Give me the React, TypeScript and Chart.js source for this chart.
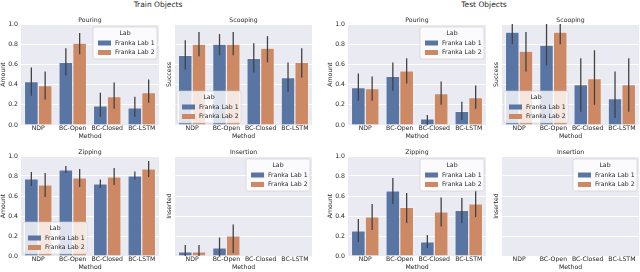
import React, { useEffect, useRef } from "react";
import { Chart, registerables } from "chart.js";
Chart.register(...registerables);

// ---------- data ----------
const methods = ["NDP", "BC-Open", "BC-Closed", "BC-LSTM"];
const labs = ["Franka Lab 1", "Franka Lab 2"];
const legendTitle = "Lab";
const yTicks = [0, 0.2, 0.4, 0.6, 0.8, 1.0];

// Train – Pouring
const trPourL1 = [0.43, 0.62, 0.19, 0.17];
const trPourL1Lo = [0.29, 0.49, 0.08, 0.08];
const trPourL1Hi = [0.57, 0.76, 0.32, 0.28];
const trPourL2 = [0.39, 0.81, 0.28, 0.32];
const trPourL2Lo = [0.25, 0.7, 0.16, 0.22];
const trPourL2Hi = [0.53, 0.91, 0.42, 0.45];

// Train – Scooping
const trScoopL1 = [0.69, 0.8, 0.66, 0.47];
const trScoopL1Lo = [0.55, 0.69, 0.52, 0.33];
const trScoopL1Hi = [0.84, 0.9, 0.81, 0.62];
const trScoopL2 = [0.8, 0.8, 0.76, 0.62];
const trScoopL2Lo = [0.68, 0.69, 0.62, 0.47];
const trScoopL2Hi = [0.92, 0.92, 0.88, 0.76];

// Test – Pouring
const tePourL1 = [0.37, 0.48, 0.06, 0.135];
const tePourL1Lo = [0.24, 0.34, 0.0, 0.05];
const tePourL1Hi = [0.51, 0.62, 0.1, 0.23];
const tePourL2 = [0.36, 0.535, 0.31, 0.27];
const tePourL2Lo = [0.24, 0.41, 0.2, 0.16];
const tePourL2Hi = [0.48, 0.66, 0.43, 0.39];

// Test – Scooping
const teScoopL1 = [0.92, 0.79, 0.4, 0.26];
const teScoopL1Lo = [0.8, 0.59, 0.13, 0.07];
const teScoopL1Hi = [1.0, 1.0, 0.66, 0.53];
const teScoopL2 = [0.73, 0.92, 0.46, 0.4];
const teScoopL2Lo = [0.53, 0.8, 0.2, 0.13];
const teScoopL2Hi = [0.92, 1.0, 0.74, 0.66];

// Train – Zipping
const trZipL1 = [0.77, 0.86, 0.72, 0.8];
const trZipL1Lo = [0.7, 0.83, 0.68, 0.765];
const trZipL1Hi = [0.84, 0.9, 0.765, 0.845];
const trZipL2 = [0.71, 0.78, 0.79, 0.87];
const trZipL2Lo = [0.59, 0.69, 0.71, 0.79];
const trZipL2Hi = [0.83, 0.87, 0.88, 0.95];

// Train – Insertion
const trInsL1 = [0.04, 0.08, 0, 0];
const trInsL1Lo = [0, 0, 0, 0];
const trInsL1Hi = [0.11, 0.185, 0, 0];
const trInsL2 = [0.04, 0.2, 0, 0];
const trInsL2Lo = [0, 0.03, 0, 0];
const trInsL2Hi = [0.11, 0.315, 0, 0];

// Test – Zipping
const teZipL1 = [0.25, 0.65, 0.14, 0.455];
const teZipL1Lo = [0.14, 0.52, 0.08, 0.33];
const teZipL1Hi = [0.37, 0.78, 0.21, 0.58];
const teZipL2 = [0.39, 0.485, 0.44, 0.52];
const teZipL2Lo = [0.26, 0.33, 0.295, 0.39];
const teZipL2Hi = [0.52, 0.63, 0.585, 0.665];

// Test – Insertion
const teInsL1 = [0, 0, 0, 0];
const teInsL1Lo = [0, 0, 0, 0];
const teInsL1Hi = [0, 0, 0, 0];
const teInsL2 = [0, 0, 0, 0];
const teInsL2Lo = [0, 0, 0, 0];
const teInsL2Hi = [0, 0, 0, 0];

// ---------- style ----------
const FONT = '"DejaVu Sans", sans-serif';
const FS = 6.2;
const TXT = "#262626";
const BG = "#EAEAF2";
const BLUE = "#5975A4";
const ORANGE = "#CC8963";
const ERR = "#424242";

type PanelCfg = {
  title: string;
  yLabel: string;
  showYTicks: boolean;
  legend: "ur" | "ll";
  v: number[][];
  lo: number[][];
  hi: number[][];
  left: number;
  top: number;
  width: number;
  height: number;
  yW: number;
};

const ROW1 = { top: 12, height: 128 };
const ROW2 = { top: 144, height: 127 };
const COLS = [
  { left: 0, width: 159, yW: 21, ticks: true },
  { left: 166, width: 146, yW: 9, ticks: false },
  { left: 327, width: 159, yW: 21, ticks: true },
  { left: 493, width: 146, yW: 9, ticks: false },
];

function mk(
  row: { top: number; height: number },
  col: { left: number; width: number; yW: number; ticks: boolean },
  title: string,
  yLabel: string,
  legend: "ur" | "ll",
  v: number[][],
  lo: number[][],
  hi: number[][]
): PanelCfg {
  return {
    title,
    yLabel,
    legend,
    v,
    lo,
    hi,
    showYTicks: col.ticks,
    left: col.left,
    width: col.width,
    yW: col.yW,
    top: row.top,
    height: row.height,
  };
}

const panels: PanelCfg[] = [
  mk(ROW1, COLS[0], "Pouring", "Amount", "ur", [trPourL1, trPourL2], [trPourL1Lo, trPourL2Lo], [trPourL1Hi, trPourL2Hi]),
  mk(ROW1, COLS[1], "Scooping", "Success", "ll", [trScoopL1, trScoopL2], [trScoopL1Lo, trScoopL2Lo], [trScoopL1Hi, trScoopL2Hi]),
  mk(ROW1, COLS[2], "Pouring", "Amount", "ur", [tePourL1, tePourL2], [tePourL1Lo, tePourL2Lo], [tePourL1Hi, tePourL2Hi]),
  mk(ROW1, COLS[3], "Scooping", "Success", "ll", [teScoopL1, teScoopL2], [teScoopL1Lo, teScoopL2Lo], [teScoopL1Hi, teScoopL2Hi]),
  mk(ROW2, COLS[0], "Zipping", "Amount", "ll", [trZipL1, trZipL2], [trZipL1Lo, trZipL2Lo], [trZipL1Hi, trZipL2Hi]),
  mk(ROW2, COLS[1], "Insertion", "Inserted", "ur", [trInsL1, trInsL2], [trInsL1Lo, trInsL2Lo], [trInsL1Hi, trInsL2Hi]),
  mk(ROW2, COLS[2], "Zipping", "Amount", "ur", [teZipL1, teZipL2], [teZipL1Lo, teZipL2Lo], [teZipL1Hi, teZipL2Hi]),
  mk(ROW2, COLS[3], "Insertion", "Inserted", "ur", [teInsL1, teInsL2], [teInsL1Lo, teInsL2Lo], [teInsL1Hi, teInsL2Hi]),
];

function roundRect(ctx: CanvasRenderingContext2D, x: number, y: number, w: number, h: number, r: number) {
  ctx.beginPath();
  ctx.moveTo(x + r, y);
  ctx.lineTo(x + w - r, y);
  ctx.quadraticCurveTo(x + w, y, x + w, y + r);
  ctx.lineTo(x + w, y + h - r);
  ctx.quadraticCurveTo(x + w, y + h, x + w - r, y + h);
  ctx.lineTo(x + r, y + h);
  ctx.quadraticCurveTo(x, y + h, x, y + h - r);
  ctx.lineTo(x, y + r);
  ctx.quadraticCurveTo(x, y, x + r, y);
  ctx.closePath();
}

function Panel({ cfg }: { cfg: PanelCfg }) {
  const ref = useRef<HTMLCanvasElement>(null);
  useEffect(() => {
    const canvas = ref.current!;
    const font = { family: FONT, size: FS };
    const colors = [BLUE, ORANGE];

    const bgPlugin = {
      id: "panelBg",
      beforeDraw(chart: any) {
        const { ctx, chartArea: a } = chart;
        ctx.save();
        ctx.fillStyle = BG;
        ctx.fillRect(a.left, a.top, a.right - a.left, a.bottom - a.top);
        ctx.restore();
      },
    };

    const overlayPlugin = {
      id: "panelOverlay",
      afterDatasetsDraw(chart: any) {
        const { ctx, chartArea: a } = chart;
        const ys = chart.scales.y;
        // error bars
        ctx.save();
        ctx.strokeStyle = ERR;
        ctx.lineWidth = 1.3;
        for (let i = 0; i < 2; i++) {
          const meta = chart.getDatasetMeta(i);
          meta.data.forEach((bar: any, j: number) => {
            const l = cfg.lo[i][j];
            const h = cfg.hi[i][j];
            if (h - l <= 0) return;
            ctx.beginPath();
            ctx.moveTo(bar.x, ys.getPixelForValue(l));
            ctx.lineTo(bar.x, ys.getPixelForValue(h));
            ctx.stroke();
          });
        }
        ctx.restore();

        // legend
        const w = 64;
        const h = 32;
        const x = cfg.legend === "ur" ? a.right - 2 - w : a.left + 2;
        const y = cfg.legend === "ur" ? a.top + 3 : a.bottom - 2 - h;
        ctx.save();
        roundRect(ctx, x, y, w, h, 2);
        ctx.fillStyle = "rgba(255,255,255,0.8)";
        ctx.fill();
        ctx.strokeStyle = "rgba(204,204,204,0.8)";
        ctx.lineWidth = 0.8;
        ctx.stroke();
        ctx.font = `${FS}px ${FONT}`;
        ctx.fillStyle = TXT;
        ctx.textAlign = "center";
        ctx.textBaseline = "middle";
        ctx.fillText(legendTitle, x + w / 2, y + 6.5);
        ctx.textAlign = "left";
        for (let k = 0; k < 2; k++) {
          const yy = y + 16 + k * 9.5;
          ctx.fillStyle = colors[k];
          ctx.fillRect(x + 5, yy - 2.5, 13, 5);
          ctx.fillStyle = TXT;
          ctx.fillText(labs[k], x + 22, yy);
        }
        ctx.restore();
      },
      afterDraw(chart: any) {
        const { ctx, chartArea: a } = chart;
        ctx.save();
        ctx.font = `${FS}px ${FONT}`;
        ctx.fillStyle = TXT;
        ctx.textAlign = "center";
        ctx.textBaseline = "middle";
        ctx.fillText(cfg.title, (a.left + a.right) / 2, a.top - 3.5);
        ctx.restore();
      },
    };

    const chart = new Chart(canvas, {
      type: "bar",
      data: {
        labels: methods,
        datasets: [0, 1].map((i) => ({
          label: labs[i],
          data: cfg.v[i],
          backgroundColor: colors[i],
          borderColor: "rgba(255,255,255,0.6)",
          borderWidth: 0.6,
          categoryPercentage: 0.8,
          barPercentage: 1.0,
        })),
      },
      options: {
        responsive: false,
        animation: false,
        devicePixelRatio: 1,
        layout: { padding: { top: 12, left: 0, right: 0, bottom: 0 } },
        plugins: {
          legend: { display: false },
          tooltip: { enabled: false },
          title: { display: false },
        },
        scales: {
          x: {
            grid: { display: false, drawTicks: false },
            border: { display: false },
            ticks: { color: TXT, font, padding: 0, maxRotation: 0, autoSkip: false },
            title: { display: true, text: "Method", color: TXT, font, padding: 0 },
            afterFit: (s: any) => {
              s.height = 15;
            },
          },
          y: {
            min: 0,
            max: 1,
            afterBuildTicks: (s: any) => {
              s.ticks = yTicks.map((value) => ({ value }));
            },
            grid: { color: "#ffffff", lineWidth: 1, drawTicks: false },
            border: { display: false },
            ticks: {
              display: cfg.showYTicks,
              color: TXT,
              font,
              padding: 3,
              callback: (val: any) => Number(val).toFixed(1),
            },
            title: { display: true, text: cfg.yLabel, color: TXT, font, padding: 0 },
            afterFit: (s: any) => {
              s.width = cfg.yW;
            },
          },
        },
      } as any,
      plugins: [bgPlugin, overlayPlugin],
    });
    return () => chart.destroy();
  }, []);
  return (
    <canvas
      ref={ref}
      width={cfg.width}
      height={cfg.height}
      style={{ position: "absolute", left: cfg.left, top: cfg.top, width: cfg.width, height: cfg.height }}
    />
  );
}

const supStyle: React.CSSProperties = {
  position: "absolute",
  top: 1,
  transform: "translateX(-50%)",
  fontFamily: FONT,
  fontSize: 7.5,
  lineHeight: "8px",
  color: TXT,
  whiteSpace: "nowrap",
};

export default function App() {
  return (
    <div
      style={{
        position: "fixed",
        left: 0,
        top: 0,
        width: 640,
        height: 272,
        background: "#ffffff",
        overflow: "hidden",
      }}
    >
      <div style={{ ...supStyle, left: 158 }}>Train Objects</div>
      <div style={{ ...supStyle, left: 484 }}>Test Objects</div>
      {panels.map((p, i) => (
        <Panel key={i} cfg={p} />
      ))}
    </div>
  );
}
